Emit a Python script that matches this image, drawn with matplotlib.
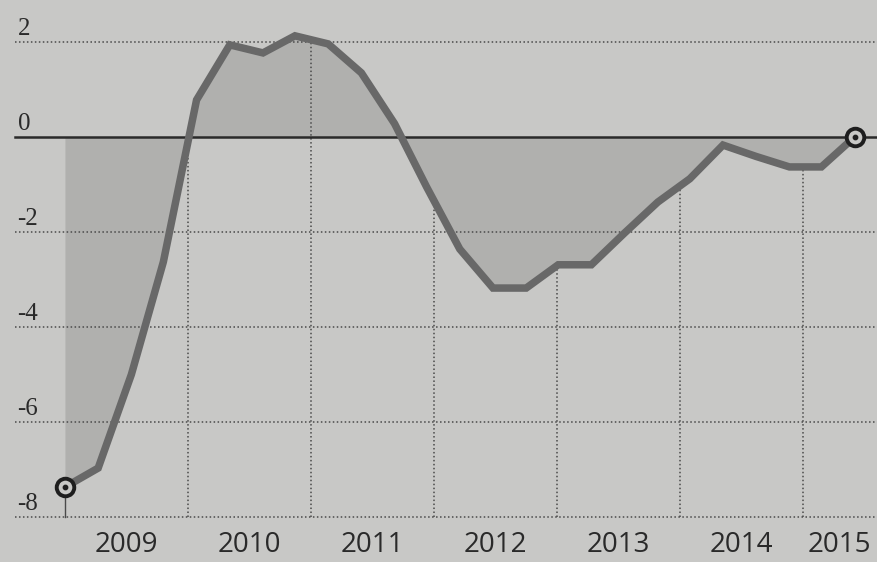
import numpy as np
import matplotlib
matplotlib.use("Agg")
import matplotlib.pyplot as plt

# Data (decimal years, values)
dates = [2009.00, 2009.27, 2009.54, 2009.80, 2010.07, 2010.34, 2010.61, 2010.87,
         2011.14, 2011.41, 2011.68, 2011.94, 2012.21, 2012.48, 2012.75, 2013.01,
         2013.28, 2013.55, 2013.82, 2014.08, 2014.35, 2014.62, 2014.89, 2015.15,
         2015.42]
values = [-7.37, -6.97, -5.0, -2.63, 0.78, 1.94, 1.77, 2.13,
          1.96, 1.35, 0.28, -1.05, -2.36, -3.18, -3.18, -2.69,
          -2.69, -2.02, -1.37, -0.88, -0.17, -0.41, -0.63, -0.63,
          0.0]
year_labels = ["2009", "2010", "2011", "2012", "2013", "2014", "2015"]
year_label_pos = [2009.5, 2010.5, 2011.5, 2012.5, 2013.5, 2014.5, 2015.3]
year_bounds = [2010, 2011, 2012, 2013, 2014, 2015]
yticks = [2, 0, -2, -4, -6, -8]

BG = "#c8c8c6"
SHADE = "#b0b0ae"
LINE = "#686868"
GRID = "#4a4a4a"
TEXT = "#2a2a2a"

fig = plt.figure(figsize=(8.77, 5.62), dpi=100)
fig.patch.set_facecolor(BG)
ax = fig.add_axes([0, 0, 1, 1])
ax.set_facecolor(BG)
ax.set_xlim(2008.472, 2015.602)
ax.set_ylim(-8.947, 2.884)
ax.axis("off")

x = np.array(dates)
y = np.array(values)

# shaded area between curve and zero
ax.fill_between(x, y, 0, color=SHADE, lw=0, zorder=1)

x0 = 2008.59
# horizontal gridlines
for t in yticks:
    if t == 0:
        continue
    ax.plot([x0, 2015.602], [t, t], color=GRID, lw=1.1,
            linestyle=(0, (1, 1.6)), zorder=2)
ax.plot([x0, 2015.602], [0, 0], color="#2a2a2a", lw=1.8, zorder=3)

# vertical drop lines at year boundaries
for b in year_bounds:
    top = np.interp(b, x, y)
    ax.plot([b, b], [-8, top], color=GRID, lw=1.1,
            linestyle=(0, (1, 1.6)), zorder=2)
ax.plot([dates[0], dates[0]], [-8, values[0]], color=GRID, lw=1.0, zorder=2)

# main line
ax.plot(x, y, color=LINE, lw=5.4, solid_joinstyle="miter",
        solid_capstyle="butt", zorder=4)

# end markers
for xi, yi in [(dates[0], values[0]), (dates[-1], values[-1])]:
    ax.scatter([xi], [yi], s=160, facecolor=BG, edgecolor="#1e1e1e",
               linewidth=2.8, zorder=5)
    ax.scatter([xi], [yi], s=10, color="#1e1e1e", zorder=6)

# y labels
for t in yticks:
    ax.text(2008.615, t + 0.15, f"{t}", fontsize=18, family="Liberation Serif",
            color=TEXT, ha="left", va="baseline", zorder=6)

# year labels
for lab, p in zip(year_labels, year_label_pos):
    ax.text(p, -8.74, lab, fontsize=20, family="Open Sans", color=TEXT,
            ha="center", va="baseline", zorder=6)

fig.savefig("out.png", dpi=100, facecolor=BG)
